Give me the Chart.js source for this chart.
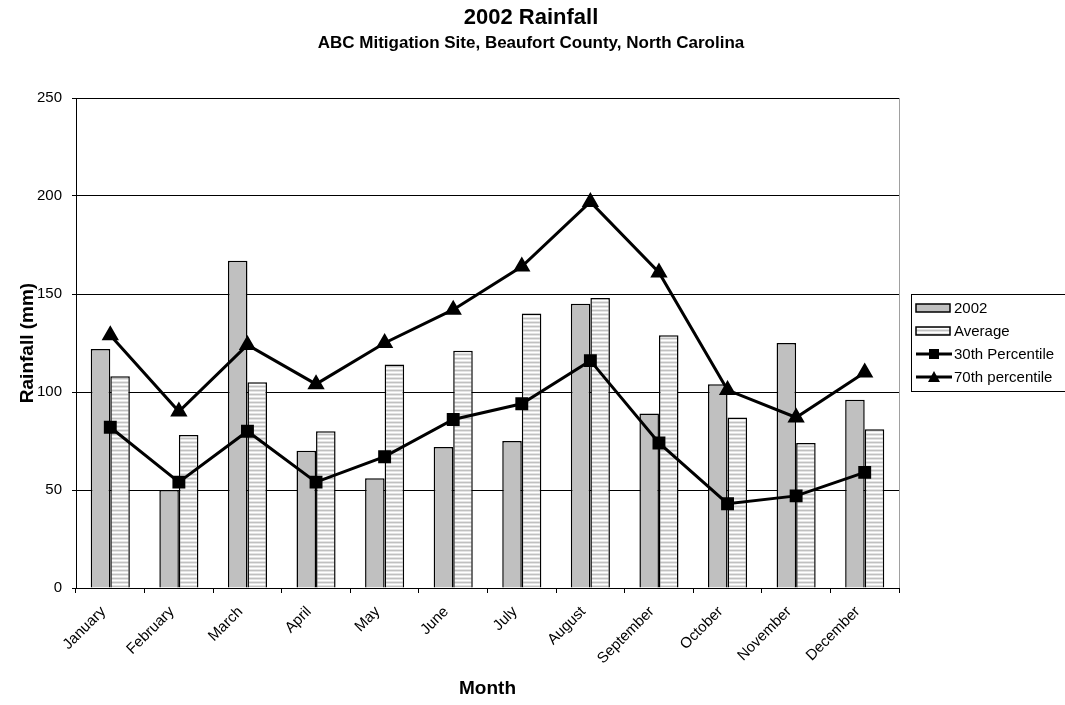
<!DOCTYPE html>
<html>
<head>
<meta charset="utf-8">
<script src="https://cdn.jsdelivr.net/npm/chart.js@4.4.0/dist/chart.umd.min.js"></script>
<style>
    html, body { margin: 0; padding: 0; background: #fff; }
    #wrap { width: 1065px; height: 705px; }
</style>
</head>
<body>
<div id="wrap"><canvas id="RainChart" width="1065" height="705"></canvas></div>
<script>
// ---------------- Data ----------------
const titleText = "2002 Rainfall";
const subtitleText = "ABC Mitigation Site, Beaufort County, North Carolina";
const months = ["January", "February", "March", "April", "May", "June",
    "July", "August", "September", "October", "November", "December"];
const rain2002 = [122, 50, 167, 70, 56, 72, 75, 145, 89, 104, 125, 96];
const rainAverage = [108, 78, 105, 80, 114, 121, 140, 148, 129, 87, 74, 81];
const pct30 = [82, 54, 80, 54, 67, 86, 94, 116, 74, 43, 47, 59];
const pct70 = [129, 90, 124, 104, 125, 142, 164, 197, 161, 101, 87, 110];
const yMin = 0;
const yMax = 250;
const yStep = 50;

const FONT = "'Liberation Sans', Arial, sans-serif";

// ---------------- Stripe fill for Average bars ----------------
function stripePattern(ctx) {
    const c = document.createElement("canvas");
    c.width = 4;
    c.height = 4;
    const g = c.getContext("2d");
    g.fillStyle = "#ffffff";
    g.fillRect(0, 0, 4, 4);
    g.fillStyle = "#e4e4e4";
    g.fillRect(0, 1, 4, 1);
    g.fillRect(0, 3, 4, 1);
    g.fillStyle = "#c0c0c0";
    g.fillRect(0, 2, 4, 1);
    return ctx.createPattern(c, "repeat");
}

// ---------------- Plugins ----------------
const chartTitles = {
    id: "chartTitles",
    afterDraw(chart) {
        const c = chart.ctx;
        c.save();
        c.fillStyle = "#000";
        c.textAlign = "center";
        c.textBaseline = "alphabetic";
        c.font = "bold 22px " + FONT;
        c.fillText(titleText, 531, 24);
        c.font = "bold 17px " + FONT;
        c.fillText(subtitleText, 531, 48);
        c.restore();
    }
};

const plotBorder = {
    id: "plotBorder",
    beforeDatasetsDraw(chart) {
        const { ctx, chartArea } = chart;
        ctx.save();
        ctx.strokeStyle = "#a0a0a0";
        ctx.lineWidth = 1;
        ctx.beginPath();
        ctx.moveTo(chartArea.right + 0.5, chartArea.top);
        ctx.lineTo(chartArea.right + 0.5, chartArea.bottom);
        ctx.stroke();
        ctx.restore();
    }
};

const sideLegend = {
    id: "sideLegend",
    afterDraw(chart) {
        const ctx = chart.ctx;
        const x0 = 911, y0 = 294, w = 160, h = 97;
        ctx.save();
        ctx.strokeStyle = "#000";
        ctx.lineWidth = 1;
        ctx.strokeRect(x0 + 0.5, y0 + 0.5, w, h);

        ctx.font = "15px " + FONT;
        ctx.textBaseline = "middle";
        ctx.textAlign = "left";

        const rows = [308, 331, 354, 377];
        const sx = 916, sw = 34;
        chart.data.datasets.forEach((ds, i) => {
            const cy = rows[i];
            if (ds.type === "line") {
                ctx.strokeStyle = "#000";
                ctx.lineWidth = 3;
                ctx.beginPath();
                ctx.moveTo(sx, cy);
                ctx.lineTo(sx + sw + 2, cy);
                ctx.stroke();
                const mx = sx + sw / 2 + 1;
                ctx.fillStyle = "#000";
                if (ds.pointStyle === "rect") {
                    ctx.fillRect(mx - 5, cy - 5, 10, 10);
                } else {
                    ctx.beginPath();
                    ctx.moveTo(mx, cy - 6);
                    ctx.lineTo(mx + 6, cy + 5);
                    ctx.lineTo(mx - 6, cy + 5);
                    ctx.closePath();
                    ctx.fill();
                }
            } else {
                ctx.fillStyle = ds.backgroundColor;
                ctx.fillRect(sx, cy - 4, sw, 8);
                ctx.strokeStyle = "#000";
                ctx.lineWidth = 1.5;
                ctx.strokeRect(sx, cy - 4, sw, 8);
            }
            ctx.fillStyle = "#000";
            ctx.fillText(ds.label, sx + sw + 4, cy + 1);
        });
        ctx.restore();
    }
};

// ---------------- Chart ----------------
const canvas = document.getElementById("RainChart");
const ctx = canvas.getContext("2d");

Chart.defaults.font.family = FONT;
Chart.defaults.color = "#000";

new Chart(ctx, {
    type: "bar",
    data: {
        labels: months,
        datasets: [
            {
                label: "2002",
                data: rain2002,
                backgroundColor: "#c0c0c0",
                borderColor: "#000",
                borderWidth: 1.5,
                categoryPercentage: 0.57,
                barPercentage: 1.0,
                order: 2
            },
            {
                label: "Average",
                data: rainAverage,
                backgroundColor: stripePattern(ctx),
                borderColor: "#000",
                borderWidth: 1.5,
                categoryPercentage: 0.57,
                barPercentage: 1.0,
                order: 2
            },
            {
                type: "line",
                label: "30th Percentile",
                data: pct30,
                borderColor: "#000",
                borderWidth: 3,
                pointStyle: "rect",
                pointRadius: 7,
                pointBackgroundColor: "#000",
                pointBorderColor: "#000",
                tension: 0,
                order: 0
            },
            {
                type: "line",
                label: "70th percentile",
                data: pct70,
                borderColor: "#000",
                borderWidth: 3,
                pointStyle: "triangle",
                pointRadius: 7,
                pointBackgroundColor: "#000",
                pointBorderColor: "#000",
                tension: 0,
                order: 1
            }
        ]
    },
    options: {
        responsive: false,
        animation: false,
        layout: {
            padding: { left: 0, right: 166, top: 98, bottom: 0 }
        },
        scales: {
            x: {
                offset: true,
                grid: {
                    offset: true,
                    drawOnChartArea: false,
                    color: "#000",
                    tickLength: 5
                },
                border: { color: "#000", width: 1 },
                ticks: {
                    color: "#000",
                    font: { size: 15 },
                    minRotation: 45,
                    maxRotation: 45,
                    autoSkip: false,
                    padding: 10,
                    labelOffset: -7
                },
                title: {
                    display: true,
                    text: "Month",
                    color: "#000",
                    font: { size: 19, weight: "bold" },
                    padding: { top: 0, bottom: 5 }
                },
                afterFit(scale) {
                    scale.height = 117;
                }
            },
            y: {
                min: yMin,
                max: yMax,
                grid: {
                    color: "#000",
                    tickLength: 4
                },
                border: { color: "#000", width: 1 },
                ticks: {
                    stepSize: yStep,
                    color: "#000",
                    font: { size: 15 },
                    padding: 10
                },
                title: {
                    display: true,
                    text: "Rainfall (mm)",
                    color: "#000",
                    font: { size: 19, weight: "bold" },
                    padding: { top: 16, bottom: 0 }
                },
                afterFit(scale) {
                    scale.width = 76;
                }
            }
        },
        plugins: {
            legend: { display: false },
            tooltip: { enabled: false }
        }
    },
    plugins: [plotBorder, sideLegend, chartTitles]
});
</script>
</body>
</html>
